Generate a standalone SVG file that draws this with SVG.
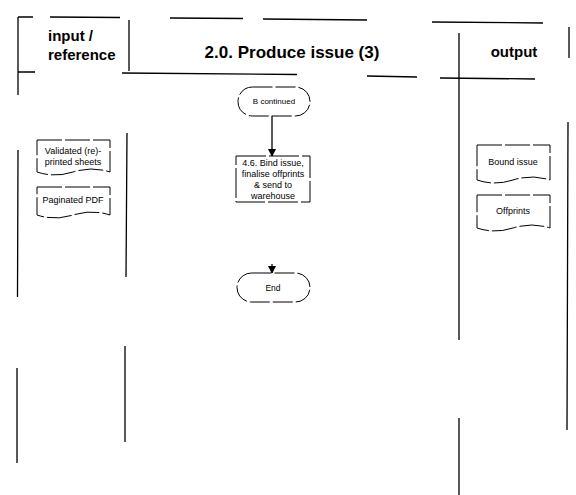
<svg xmlns="http://www.w3.org/2000/svg" width="576" height="495" viewBox="0 0 576 495">
<style>
.ln{stroke:#000;stroke-width:1.3;fill:none}
.sh{stroke:#000;stroke-width:1;fill:#fff}
.t{font-family:"Liberation Sans",Arial,sans-serif;fill:#000;text-anchor:middle}
.l{text-anchor:start}
.s{font-size:9px}
.h{font-size:15px;font-weight:bold}
</style>
<defs>
<marker id="ar" markerWidth="8" markerHeight="8" refX="7" refY="4" orient="auto" markerUnits="userSpaceOnUse">
<path d="M0,0 L8,4 L0,8 Z" fill="#000"/>
</marker>
</defs>
<rect width="576" height="495" fill="#fff"/>
<g id="frame">
<path class="ln" d="M18,17 L33,17 M50,17 L120,17.5 M170,18 L243,18.5 M263,19 L367,20 M432,22 L543,23"/>
<path class="ln" d="M18,72 L35,72 M122,73 L297,74.5 M367,76 L417,77 M440,78 L535,79"/>
<path class="ln" d="M18,17 L18,95 M18,150 L17.5,297 M17,368 L17,463"/>
<path class="ln" d="M129,20 L129,71"/>
<path class="ln" d="M127,133 L126,277 M125,346 L125,442"/>
<path class="ln" d="M459,33 L459,340 M459,418 L459,495"/>
<path class="ln" d="M569,27 L569,58 M568,122 L567,430"/>
<text class="t h l" x="48" y="41">input /</text>
<text class="t h l" x="48" y="60">reference</text>
<text class="t" x="292" y="58" font-size="17" font-weight="bold">2.0. Produce issue (3)</text>
<text class="t h" x="514" y="57">output</text>
</g>
<g id="connectors">
<line class="ln" x1="272" y1="116" x2="272" y2="156" marker-end="url(#ar)"/>
<line class="ln" x1="272" y1="264" x2="272" y2="273" marker-end="url(#ar)"/>
</g>
<g id="b-continued">
<rect class="sh" x="238" y="87" width="72" height="29" rx="14.5" stroke-dasharray="20 3"/>
<text class="t" x="274" y="104" font-size="8">B continued</text>
</g>
<g id="bind-issue">
<rect class="sh" x="236" y="156" width="74" height="46" stroke-dasharray="30 3"/>
<text class="t s" x="273" y="166">4.6. Bind issue,</text>
<text class="t s" x="273" y="177">finalise offprints</text>
<text class="t s" x="273" y="188">&amp; send to</text>
<text class="t s" x="273" y="199">warehouse</text>
</g>
<g id="end">
<rect class="sh" x="237" y="273" width="73" height="29" rx="14.5" stroke-dasharray="20 3"/>
<text class="t" x="273" y="291" font-size="8.5">End</text>
</g>
<g id="validated-sheets">
<path class="sh" stroke-dasharray="25 3" d="M37,140 H110 V172 Q92,166 73,172 Q55,178 37,172 Z"/>
<text class="t s" x="73" y="154">Validated (re)-</text>
<text class="t s" x="73" y="165">printed sheets</text>
</g>
<g id="paginated-pdf">
<path class="sh" stroke-dasharray="25 3" d="M37,187 H110 V215 Q92,209 73,215 Q55,221 37,215 Z"/>
<text class="t s" x="73" y="203">Paginated PDF</text>
</g>
<g id="bound-issue">
<path class="sh" stroke-dasharray="25 3" d="M477,145 H550 V180 Q532,174 513,180 Q495,186 477,180 Z"/>
<text class="t s" x="513" y="165">Bound issue</text>
</g>
<g id="offprints">
<path class="sh" stroke-dasharray="25 3" d="M477,195 H550 V228 Q532,222 513,228 Q495,234 477,228 Z"/>
<text class="t s" x="513" y="214">Offprints</text>
</g>
</svg>
